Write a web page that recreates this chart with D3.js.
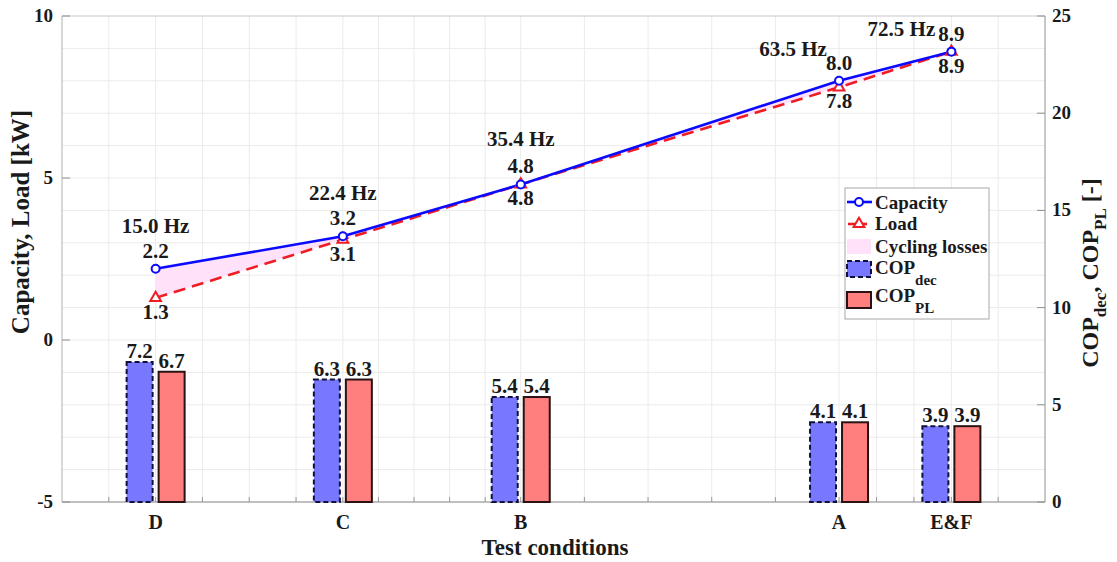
<!DOCTYPE html>
<html>
<head>
<meta charset="utf-8">
<script src="https://cdn.jsdelivr.net/npm/d3@7"></script>
<style>
  body { margin: 0; background: #fff; }
  svg text { font-family: "Liberation Serif", "Times New Roman", serif; font-weight: bold; fill: #1a1a1a; }
</style>
</head>
<body>
<svg id="chart"></svg>
<script>
// Test conditions and their part load ratio [%] (used as x position)
const conditions = ['D', 'C', 'B', 'A', 'E&F'];
const partLoad = [15, 35, 54, 88, 100];
const frequency = [15.0, 22.4, 35.4, 63.5, 72.5];
// left axis [kW]
const capacity = [2.2, 3.2, 4.8, 8.0, 8.9];
const load = [1.3, 3.1, 4.8, 7.8, 8.9];
// right axis [-]
const copDec = [7.2, 6.3, 5.4, 4.1, 3.9];
const copPL = [6.7, 6.3, 5.4, 4.1, 3.9];
const leftTicks = [-5, 0, 5, 10];
const rightTicks = [0, 5, 10, 15, 20, 25];

class ComboChart {
    constructor(_config) {
        this.config = {
            parentElement: _config.parentElement,
            containerWidth: _config.containerWidth || 1117,
            containerHeight: _config.containerHeight || 562,
            margin: _config.margin || {top: 16, right: 72, bottom: 60, left: 62}
        }
        this.initVis();
    }

    initVis() {
        let vis = this;
        vis.width = vis.config.containerWidth - vis.config.margin.left - vis.config.margin.right;
        vis.height = vis.config.containerHeight - vis.config.margin.top - vis.config.margin.bottom;

        vis.xScale = d3.scaleLinear().domain([5, 110]).range([0, vis.width]);
        vis.yLeft = d3.scaleLinear().domain([-5, 10]).range([vis.height, 0]);
        vis.yRight = d3.scaleLinear().domain([0, 25]).range([vis.height, 0]);

        vis.svg = d3.select(vis.config.parentElement)
            .attr('width', vis.config.containerWidth)
            .attr('height', vis.config.containerHeight);

        vis.chart = vis.svg.append('g')
            .attr('transform', `translate(${vis.config.margin.left},${vis.config.margin.top})`);
    }

    renderVis() {
        let vis = this;
        const x = vis.xScale, yL = vis.yLeft, yR = vis.yRight;
        const rows = conditions.map((c, i) => ({
            cond: c, x: partLoad[i], hz: frequency[i], cap: capacity[i], load: load[i],
            dec: copDec[i], pl: copPL[i]
        }));

        // grid: every 1 kW horizontally, subdivided intervals between test points vertically
        vis.chart.append('g').selectAll('line')
            .data(d3.range(-4, 10, 1))
            .join('line')
            .attr('x1', 0).attr('x2', vis.width)
            .attr('y1', d => yL(d)).attr('y2', d => yL(d))
            .attr('stroke', '#ebebeb');

        const stops = [5, ...partLoad, 110];
        const splits = [2, 4, 5, 5, 3, 2];
        let xGrid = [];
        stops.slice(0, -1).forEach((s, i) => {
            const step = (stops[i + 1] - s) / splits[i];
            for (let k = 1; k <= splits[i]; k++) xGrid.push(s + k * step);
        });
        xGrid = xGrid.filter(v => v < 109.9);
        vis.chart.append('g').selectAll('line')
            .data(xGrid)
            .join('line')
            .attr('x1', d => x(d)).attr('x2', d => x(d))
            .attr('y1', 0).attr('y2', vis.height)
            .attr('stroke', '#ebebeb');

        // frame
        vis.chart.append('line').attr('x1', 0).attr('x2', vis.width).attr('y1', 0).attr('y2', 0).attr('stroke', '#c8c8c8');
        vis.chart.append('line').attr('x1', 0).attr('x2', 0).attr('y1', 0).attr('y2', vis.height).attr('stroke', '#b0b0b0');
        vis.chart.append('line').attr('x1', vis.width).attr('x2', vis.width).attr('y1', 0).attr('y2', vis.height).attr('stroke', '#909090');
        vis.chart.append('line').attr('x1', 0).attr('x2', vis.width).attr('y1', vis.height).attr('y2', vis.height).attr('stroke', '#808080');

        // bottom minor ticks
        vis.chart.append('g').selectAll('line')
            .data(xGrid)
            .join('line')
            .attr('x1', d => x(d)).attr('x2', d => x(d))
            .attr('y1', vis.height).attr('y2', vis.height - 5)
            .attr('stroke', '#9a9a9a');

        // left axis ticks + labels
        vis.chart.append('g').selectAll('line')
            .data(leftTicks).join('line')
            .attr('x1', 0).attr('x2', 8)
            .attr('y1', d => yL(d)).attr('y2', d => yL(d))
            .attr('stroke', '#909090');
        vis.chart.append('g').selectAll('text')
            .data(leftTicks).join('text')
            .attr('x', -9).attr('y', d => yL(d) + 6)
            .attr('text-anchor', 'end')
            .style('font-size', '19px')
            .text(d => d);

        // right axis ticks + labels
        vis.chart.append('g').selectAll('line')
            .data(rightTicks).join('line')
            .attr('x1', vis.width - 8).attr('x2', vis.width)
            .attr('y1', d => yR(d)).attr('y2', d => yR(d))
            .attr('stroke', '#909090');
        vis.chart.append('g').selectAll('text')
            .data(rightTicks).join('text')
            .attr('x', vis.width + 7).attr('y', d => yR(d) + 6)
            .style('font-size', '19px')
            .text(d => d);

        // x tick labels
        vis.chart.append('g').selectAll('text')
            .data(rows).join('text')
            .attr('x', d => x(d.x)).attr('y', vis.height + 27)
            .attr('text-anchor', 'middle')
            .style('font-size', '20px')
            .text(d => d.cond);

        // bars on right axis
        const barW = 26, gap = 6;
        vis.chart.append('g').selectAll('rect')
            .data(rows).join('rect')
            .attr('x', d => x(d.x) - gap / 2 - barW)
            .attr('y', d => yR(d.dec))
            .attr('width', barW)
            .attr('height', d => yR(0) - yR(d.dec))
            .attr('fill', '#7878ff')
            .attr('stroke', '#10103a')
            .attr('stroke-width', 2)
            .attr('stroke-dasharray', '5,3');
        vis.chart.append('g').selectAll('rect')
            .data(rows).join('rect')
            .attr('x', d => x(d.x) + gap / 2)
            .attr('y', d => yR(d.pl))
            .attr('width', barW)
            .attr('height', d => yR(0) - yR(d.pl))
            .attr('fill', '#ff7f7f')
            .attr('stroke', '#2a1212')
            .attr('stroke-width', 2);
        vis.chart.append('g').selectAll('text')
            .data(rows).join('text')
            .attr('x', d => x(d.x) - gap / 2 - barW / 2)
            .attr('y', d => yR(d.dec) - 4)
            .attr('text-anchor', 'middle')
            .style('font-size', '21px')
            .text(d => d.dec.toFixed(1));
        vis.chart.append('g').selectAll('text')
            .data(rows).join('text')
            .attr('x', d => x(d.x) + gap / 2 + barW / 2)
            .attr('y', d => yR(d.pl) - 4)
            .attr('text-anchor', 'middle')
            .style('font-size', '21px')
            .text(d => d.pl.toFixed(1));

        // cycling losses area
        vis.chart.append('path')
            .datum(rows)
            .attr('fill', '#ffe1fa')
            .attr('d', d3.area().x(d => x(d.x)).y0(d => yL(d.load)).y1(d => yL(d.cap)));

        // load line
        vis.chart.append('path')
            .datum(rows)
            .attr('fill', 'none')
            .attr('stroke', '#f01c24')
            .attr('stroke-width', 2.6)
            .attr('stroke-dasharray', '12,7')
            .attr('d', d3.line().x(d => x(d.x)).y(d => yL(d.load)));

        // capacity line
        vis.chart.append('path')
            .datum(rows)
            .attr('fill', 'none')
            .attr('stroke', '#0a0aff')
            .attr('stroke-width', 2.6)
            .attr('d', d3.line().x(d => x(d.x)).y(d => yL(d.cap)));

        const tri = d3.symbol().type(d3.symbolTriangle).size(50);
        vis.chart.append('g').selectAll('path')
            .data(rows).join('path')
            .attr('transform', d => `translate(${x(d.x)},${yL(d.load)})`)
            .attr('d', tri)
            .attr('fill', '#fff')
            .attr('stroke', '#f01c24')
            .attr('stroke-width', 2);
        vis.chart.append('g').selectAll('circle')
            .data(rows).join('circle')
            .attr('cx', d => x(d.x)).attr('cy', d => yL(d.cap))
            .attr('r', 4)
            .attr('fill', '#fff')
            .attr('stroke', '#0a0aff')
            .attr('stroke-width', 2);

        // value labels
        vis.chart.append('g').selectAll('text')
            .data(rows).join('text')
            .attr('x', d => x(d.x)).attr('y', d => yL(d.cap) - 11)
            .attr('text-anchor', 'middle')
            .style('font-size', '21px')
            .text(d => d.cap.toFixed(1));
        vis.chart.append('g').selectAll('text')
            .data(rows).join('text')
            .attr('x', d => x(d.x)).attr('y', d => yL(d.load) + 21)
            .attr('text-anchor', 'middle')
            .style('font-size', '21px')
            .text(d => d.load.toFixed(1));

        // frequency labels (last two pushed left to avoid the values)
        const hzShift = [[0, -36], [0, -36], [0, -38], [-46, -25], [-50, -16]];
        vis.chart.append('g').selectAll('text')
            .data(rows).join('text')
            .attr('x', (d, i) => x(d.x) + hzShift[i][0])
            .attr('y', (d, i) => yL(d.cap) + hzShift[i][1])
            .attr('text-anchor', 'middle')
            .style('font-size', '21px')
            .text(d => `${d.hz.toFixed(1)} Hz`);

        // axis titles
        vis.svg.append('text')
            .attr('transform', `translate(29,222) rotate(-90)`)
            .attr('text-anchor', 'middle')
            .style('font-size', '25px')
            .text('Capacity, Load [kW]');

        const rt = vis.svg.append('text')
            .attr('transform', `translate(1098,273) rotate(-90)`)
            .attr('text-anchor', 'middle')
            .style('font-size', '24px');
        rt.append('tspan').text('COP');
        rt.append('tspan').attr('dy', 8).style('font-size', '17px').text('dec');
        rt.append('tspan').attr('dy', -8).text(', COP');
        rt.append('tspan').attr('dy', 8).style('font-size', '17px').text('PL');
        rt.append('tspan').attr('dy', -8).text(' [-]');

        vis.svg.append('text')
            .attr('x', 555)
            .attr('y', 555)
            .attr('text-anchor', 'middle')
            .style('font-size', '23px')
            .text('Test conditions');

        vis.renderLegend();
    }

    renderLegend() {
        let vis = this;
        const lg = vis.svg.append('g').attr('transform', 'translate(845,188)');
        lg.append('rect')
            .attr('width', 144).attr('height', 131)
            .attr('fill', '#fff').attr('stroke', '#a8a8a8');

        lg.append('line').attr('x1', 2).attr('x2', 27).attr('y1', 14).attr('y2', 14)
            .attr('stroke', '#0a0aff').attr('stroke-width', 2.6);
        lg.append('circle').attr('cx', 14).attr('cy', 14).attr('r', 4)
            .attr('fill', '#fff').attr('stroke', '#0a0aff').attr('stroke-width', 2);
        lg.append('line').attr('x1', 3).attr('x2', 22).attr('y1', 36).attr('y2', 36)
            .attr('stroke', '#f01c24').attr('stroke-width', 2.6);
        lg.append('path').attr('transform', 'translate(14,36)')
            .attr('d', d3.symbol().type(d3.symbolTriangle).size(50))
            .attr('fill', '#fff').attr('stroke', '#f01c24').attr('stroke-width', 2);
        lg.append('rect').attr('x', 2).attr('y', 51).attr('width', 24).attr('height', 15)
            .attr('fill', '#ffe1fa');
        lg.append('rect').attr('x', 2).attr('y', 73).attr('width', 24).attr('height', 16)
            .attr('fill', '#7878ff').attr('stroke', '#10103a').attr('stroke-width', 2)
            .attr('stroke-dasharray', '5,3');
        lg.append('rect').attr('x', 2).attr('y', 104).attr('width', 24).attr('height', 16)
            .attr('fill', '#ff7f7f').attr('stroke', '#2a1212').attr('stroke-width', 2);

        const tx = 30;
        lg.append('text').attr('x', tx).attr('y', 21).style('font-size', '19px').text('Capacity');
        lg.append('text').attr('x', tx).attr('y', 42).style('font-size', '19px').text('Load');
        lg.append('text').attr('x', tx).attr('y', 65).style('font-size', '19px').text('Cycling losses');
        const t1 = lg.append('text').attr('x', tx).attr('y', 86).style('font-size', '19px');
        t1.append('tspan').text('COP');
        t1.append('tspan').attr('dy', 11).style('font-size', '15px').text('dec');
        const t2 = lg.append('text').attr('x', tx).attr('y', 114).style('font-size', '19px');
        t2.append('tspan').text('COP');
        t2.append('tspan').attr('dy', 11).style('font-size', '15px').text('PL');
    }
}

const chart = new ComboChart({parentElement: '#chart'});
chart.renderVis();
</script>
</body>
</html>
